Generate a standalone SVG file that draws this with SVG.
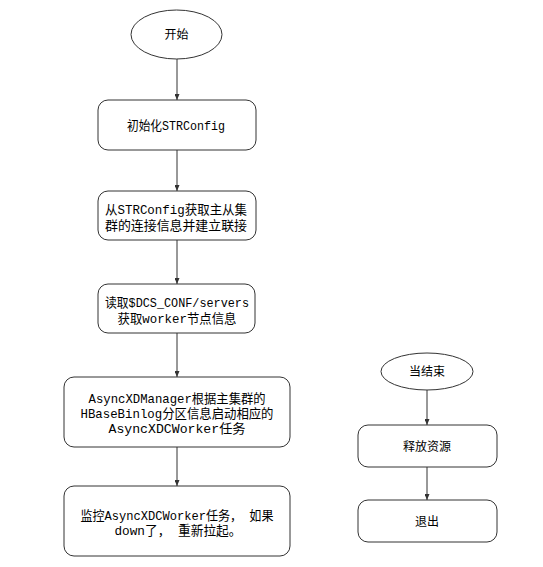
<svg xmlns="http://www.w3.org/2000/svg" width="543" height="567" viewBox="0 0 543 567">
<style>
.shape{fill:#ffffff;stroke:#333333;stroke-width:1}
.conn{stroke:#333333;stroke-width:1;fill:none;marker-end:url(#arr)}
text{font-family:"Liberation Mono","Noto Sans CJK SC",monospace;font-size:13px;fill:#000000;text-anchor:middle}
.cjk{font-family:"Noto Sans CJK SC",sans-serif;font-size:12px}
</style>
<defs>
<marker id="arr" viewBox="0 0 6 5" refX="6" refY="2.5" markerWidth="6" markerHeight="5" orient="auto" markerUnits="userSpaceOnUse">
<path d="M0,0 L6,2.5 L0,5 Z" fill="#333333"/>
</marker>
</defs>
<rect x="0" y="0" width="543" height="567" fill="#ffffff"/>
<g id="connectors">
<line class="conn" x1="177" y1="59" x2="177" y2="100"/>
<line class="conn" x1="177" y1="150" x2="177" y2="191"/>
<line class="conn" x1="177" y1="240" x2="177" y2="284"/>
<line class="conn" x1="177" y1="333" x2="177" y2="377"/>
<line class="conn" x1="177" y1="447" x2="177" y2="486"/>
<line class="conn" x1="427" y1="390" x2="427" y2="425"/>
<line class="conn" x1="427" y1="467" x2="427" y2="500"/>
</g>
<g id="start">
<ellipse class="shape" cx="176.5" cy="34.5" rx="45.5" ry="24.5"/>
<text class="cjk" x="176.5" y="39">开始</text>
</g>
<g id="init">
<rect class="shape" x="98" y="100" width="158" height="50" rx="10" ry="10"/>
<text x="176" y="130" textLength="98" lengthAdjust="spacingAndGlyphs">初始化STRConfig</text>
</g>
<g id="connect">
<rect class="shape" x="98" y="191" width="158" height="49" rx="10" ry="10"/>
<text x="176" y="214" textLength="142" lengthAdjust="spacingAndGlyphs">从STRConfig获取主从集</text>
<text x="176" y="230" textLength="142" lengthAdjust="spacingAndGlyphs">群的连接信息并建立联接</text>
</g>
<g id="servers">
<rect class="shape" x="98" y="284" width="157" height="49" rx="10" ry="10"/>
<text x="177" y="307" textLength="144" lengthAdjust="spacingAndGlyphs">读取$DCS_CONF/servers</text>
<text x="177" y="323" textLength="119" lengthAdjust="spacingAndGlyphs">获取worker节点信息</text>
</g>
<g id="manager">
<rect class="shape" x="64" y="377" width="226" height="70" rx="10" ry="10"/>
<text x="177" y="402.5" textLength="177" lengthAdjust="spacingAndGlyphs">AsyncXDManager根据主集群的</text>
<text x="177" y="418" textLength="193" lengthAdjust="spacingAndGlyphs">HBaseBinlog分区信息启动相应的</text>
<text x="177" y="433" textLength="137" lengthAdjust="spacingAndGlyphs">AsyncXDCWorker任务</text>
</g>
<g id="monitor">
<rect class="shape" x="64" y="486" width="226" height="70" rx="10" ry="10"/>
<text x="177" y="520" textLength="193" lengthAdjust="spacingAndGlyphs">监控AsyncXDCWorker任务， 如果</text>
<text x="178" y="535" textLength="127" lengthAdjust="spacingAndGlyphs">down了， 重新拉起。</text>
</g>
<g id="end">
<ellipse class="shape" cx="427" cy="371.5" rx="46" ry="18.5"/>
<text class="cjk" x="427" y="376">当结束</text>
</g>
<g id="release">
<rect class="shape" x="358" y="425" width="139" height="42" rx="10" ry="10"/>
<text class="cjk" x="427" y="450.5">释放资源</text>
</g>
<g id="exit">
<rect class="shape" x="358" y="500" width="139" height="42" rx="10" ry="10"/>
<text class="cjk" x="427" y="526">退出</text>
</g>
</svg>
